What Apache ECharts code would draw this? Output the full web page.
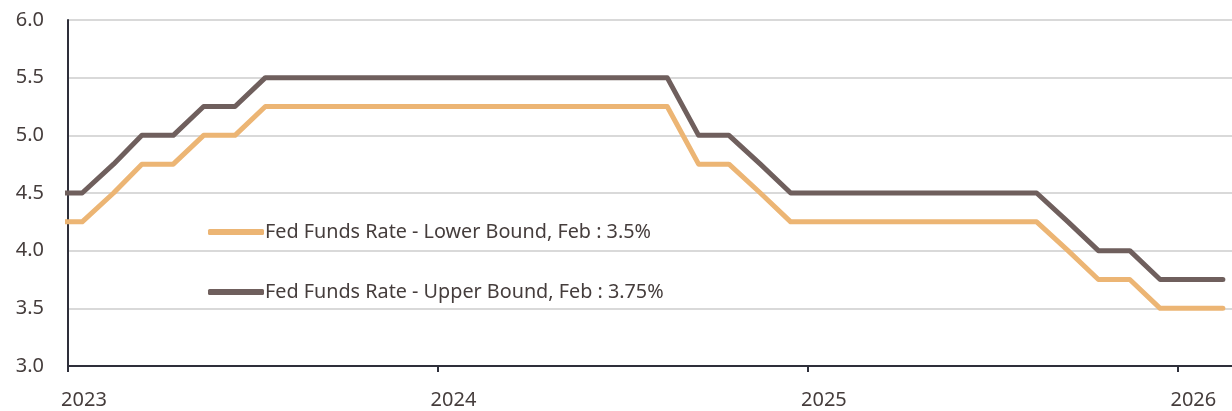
<!DOCTYPE html>
<html>
<head>
<meta charset="utf-8">
<script src="https://cdn.jsdelivr.net/npm/echarts@6/dist/echarts.min.js"></script>
<style>
  html, body { margin: 0; padding: 0; background: #fff; }
  #chart { width: 1232px; height: 411px; }
</style>
</head>
<body>
<div id="chart"></div>
<script>
// month-end target range, plotted mid-month
const months = [
  '2022-12', '2023-01', '2023-02', '2023-03', '2023-04', '2023-05', '2023-06', '2023-07', '2023-08', '2023-09', '2023-10', '2023-11', '2023-12',
  '2024-01', '2024-02', '2024-03', '2024-04', '2024-05', '2024-06', '2024-07', '2024-08', '2024-09', '2024-10', '2024-11', '2024-12',
  '2025-01', '2025-02', '2025-03', '2025-04', '2025-05', '2025-06', '2025-07', '2025-08', '2025-09', '2025-10', '2025-11', '2025-12',
  '2026-01', '2026-02'
];
const upperBound = [
  4.5, 4.5, 4.75, 5.0, 5.0, 5.25, 5.25, 5.5, 5.5, 5.5, 5.5, 5.5, 5.5,
  5.5, 5.5, 5.5, 5.5, 5.5, 5.5, 5.5, 5.5, 5.0, 5.0, 4.75, 4.5,
  4.5, 4.5, 4.5, 4.5, 4.5, 4.5, 4.5, 4.5, 4.25, 4.0, 4.0, 3.75,
  3.75, 3.75
];
const lowerBound = [
  4.25, 4.25, 4.5, 4.75, 4.75, 5.0, 5.0, 5.25, 5.25, 5.25, 5.25, 5.25, 5.25,
  5.25, 5.25, 5.25, 5.25, 5.25, 5.25, 5.25, 5.25, 4.75, 4.75, 4.5, 4.25,
  4.25, 4.25, 4.25, 4.25, 4.25, 4.25, 4.25, 4.25, 4.0, 3.75, 3.75, 3.5,
  3.5, 3.5
];
const lowerName = 'Fed Funds Rate - Lower Bound, Feb : 3.5%';
const upperName = 'Fed Funds Rate - Upper Bound, Feb : 3.75%';

const textColor = '#453d3c';
const fontFamily = '"Noto Sans", sans-serif';

function pairs(vals) {
  return months.map((m, i) => [m + '-15', vals[i]]);
}

const chart = echarts.init(document.getElementById('chart'));
chart.setOption({
  animation: false,
  grid: { left: 68, right: 0, top: 20, bottom: 45, containLabel: false },
  legend: {
    orient: 'vertical',
    left: 203,
    top: 217,
    itemWidth: 56,
    itemHeight: 6,
    itemGap: 40,
    icon: 'roundRect',
    textStyle: { color: textColor, fontSize: 19.8, fontFamily: fontFamily, padding: [0, 0, 0, -4] },
    data: [lowerName, upperName]
  },
  xAxis: {
    type: 'time',
    min: '2023-01-01',
    max: '2026-02-24',
    interval: 365 * 24 * 3600 * 1000,
    minInterval: 365 * 24 * 3600 * 1000,
    axisLine: { lineStyle: { color: '#2e2f3a', width: 2 } },
    axisTick: { show: true, length: 6, lineStyle: { color: '#2e2f3a', width: 2 } },
    axisLabel: {
      color: textColor, fontSize: 20, fontFamily: fontFamily, margin: 24,
      padding: [0, 0, 0, 32],
      formatter: function (v) { return echarts.time.format(v, '{yyyy}'); },
      showMinLabel: true
    },
    splitLine: { show: false }
  },
  yAxis: {
    type: 'value',
    min: 3.0,
    max: 6.0,
    interval: 0.5,
    axisLine: { show: true, lineStyle: { color: '#2e2f3a', width: 2 } },
    axisTick: { show: false },
    axisLabel: {
      color: textColor, fontSize: 20, fontFamily: fontFamily, margin: 24,
      formatter: function (v) { return v.toFixed(1); }
    },
    splitLine: { lineStyle: { color: '#d9d9d9', width: 2 } }
  },
  series: [
    {
      name: lowerName,
      type: 'line',
      data: pairs(lowerBound),
      showSymbol: false,
      color: '#ecb574',
      lineStyle: { width: 5, cap: 'round', join: 'round' }
    },
    {
      name: upperName,
      type: 'line',
      data: pairs(upperBound),
      showSymbol: false,
      color: '#6f5f5d',
      lineStyle: { width: 5, cap: 'round', join: 'round' }
    }
  ]
});
</script>
</body>
</html>
